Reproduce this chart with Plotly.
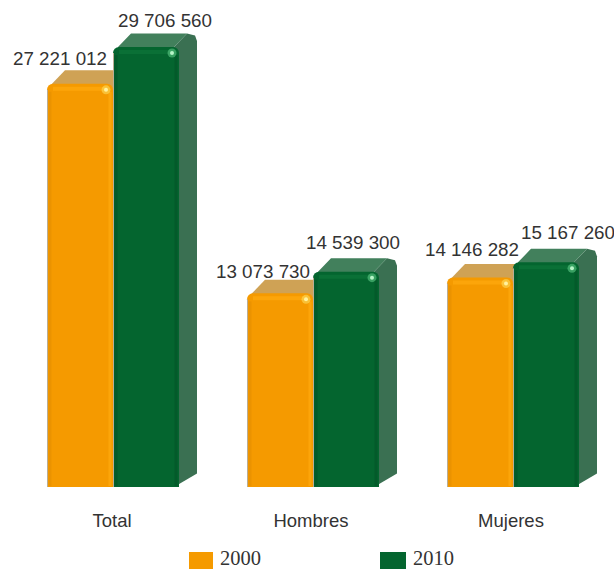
import plotly.graph_objects as go

categories = ["Total", "Hombres", "Mujeres"]
series_names = ["2000", "2010"]
values_2000 = [27221012, 13073730, 14146282]
values_2010 = [29706560, 14539300, 15167260]
label_2000 = ["27 221 012", "13 073 730", "14 146 282"]
label_2010 = ["29 706 560", "14 539 300", "15 167 260"]

W, H = 614, 569
BASE_PX = 487
PX_X = 1 / 200            # data units per pixel, x
PX_Y = 29706560 / 440     # data units per pixel, y
BAR = 66 * PX_X
DX, DY = 18 * PX_X, 13.5 * PX_Y
RX, RY = 5 * PX_X, 5 * PX_Y

FRONT = {"2000": "#f59a00", "2010": "#04652f"}
TOP = {"2000": "#cfa255", "2010": "#42805c"}
SIDE = {"2000": "#cfa255", "2010": "#3a7052"}
SHEEN = {"2000": "#fca50a", "2010": "#0a7036"}
DARK = {"2000": "#eb9300", "2010": "#035a2a"}
SPARK = {"2000": "#fff2a0", "2010": "#b8f5c8"}
GLOW = {"2000": "rgba(255,240,120,0.45)", "2010": "rgba(120,230,160,0.45)"}

traces = []


def poly(xs, ys, color):
    traces.append(go.Scatter(x=xs, y=ys, mode="lines", fill="toself", fillcolor=color,
                             line=dict(width=0, color=color), hoverinfo="skip", showlegend=False))


def stroke(xs, ys, color, width):
    traces.append(go.Scatter(x=xs, y=ys, yaxis="y2", mode="lines", line=dict(color=color, width=width),
                             hoverinfo="skip", showlegend=False))


# extruded faces, derived from the values (drawn on the lower axis, behind the bars)
inner = 7 * PX_Y
for i, h in enumerate(values_2000):
    x0, x1 = i - BAR, i
    poly([x0 + RX, x0 + DX, x1 + RX, x1 + RX, x0 + RX], [h, h + DY, h + DY, h - inner, h - inner], TOP["2000"])
for i, h in enumerate(values_2010):
    x0, x1 = i, i + BAR
    poly([x1 - RX, x1 - RX, x1 + DX - 2 * RX, x1 + DX - RX * 0.4, x1 + DX, x1 + DX, x1 - RX],
         [h - inner, h, h + DY, h + DY - 0.4 * RY, h + DY - RY * 1.5, DY, 0], SIDE["2010"])
    poly([x0 + RX, x0 + DX, x1 + DX - 2 * RX, x1 - RX, x1 - RX, x0 + RX],
         [h, h + DY, h + DY, h, h - inner, h - inner], TOP["2010"])

# front faces
for off, name, vals in ((-BAR / 2, "2000", values_2000), (BAR / 2, "2010", values_2010)):
    traces.append(go.Bar(x=[i + off for i in range(3)], y=vals, yaxis="y2", width=BAR, name=name,
                         marker=dict(color=FRONT[name], line=dict(width=0)),
                         showlegend=False, hoverinfo="skip"))

# sheen lines and specular dots
for off, name, vals in ((-BAR, "2000", values_2000), (0, "2010", values_2010)):
    for i, h in enumerate(vals):
        x0, x1 = i + off, i + off + BAR
        stroke([x0 + 3 * PX_X, x0 + 3 * PX_X], [PX_Y, h - 8 * PX_Y], DARK[name], 3)
        stroke([x1 - 3 * PX_X, x1 - 3 * PX_X], [PX_Y, h - 8 * PX_Y], SHEEN[name] if name == "2000" else DARK[name], 3)
        stroke([x0 + 6 * PX_X, x1 - 6 * PX_X], [h - 5 * PX_Y, h - 5 * PX_Y], SHEEN[name], 4)
        stroke([x0 + 0.5 * PX_X, x0 + 0.5 * PX_X], [0, h - 6 * PX_Y], "#b9ad95", 1)
        stroke([x0 + PX_X, x1 - 3 * PX_X], [-0.5 * PX_Y, -0.5 * PX_Y], "#c8c8c0", 1)
        traces.append(go.Scatter(x=[x1 - 7 * PX_X], y=[h - 6 * PX_Y], yaxis="y2", mode="markers",
                                 marker=dict(size=9, color=GLOW[name], line=dict(width=0)),
                                 hoverinfo="skip", showlegend=False))
        traces.append(go.Scatter(x=[x1 - 7 * PX_X], y=[h - 6 * PX_Y], yaxis="y2", mode="markers",
                                 marker=dict(size=4, color=SPARK[name], line=dict(width=0)),
                                 hoverinfo="skip", showlegend=False))

fig = go.Figure(traces)

FONT = "Liberation Sans, Arial, sans-serif"
LABEL_SHIFT = {"2000": [(-20, 25), (-17, 22), (-8, 28)], "2010": [(19, 27), (7, 29), (22, 30)]}
annotations = []
for off, name, vals, labs in ((-BAR / 2, "2000", values_2000, label_2000),
                              (BAR / 2, "2010", values_2010, label_2010)):
    for i, (h, t) in enumerate(zip(vals, labs)):
        sx, sy = LABEL_SHIFT[name][i]
        annotations.append(dict(x=i + off, y=h, yref="y2", text=t, showarrow=False, xshift=sx, yshift=sy,
                                xanchor="center", yanchor="middle",
                                font=dict(family=FONT, size=18.8, color="#333333")))

shapes = []
for name, px0, px1, ptext in (("2000", 189, 213, 220), ("2010", 380, 406, 413)):
    shapes.append(dict(type="rect", xref="paper", yref="paper", x0=px0 / W, x1=px1 / W,
                       y0=0, y1=(H - 552) / H, fillcolor=FRONT[name], line=dict(width=0)))
    annotations.append(dict(xref="paper", yref="paper", x=ptext / W, y=(H - 557.5) / H, text=name,
                            showarrow=False, xanchor="left", yanchor="middle", xshift=-2,
                            font=dict(family="Liberation Serif, serif", size=20.5, color="#333333")))

y_range = [0, BASE_PX * PX_Y]
y_domain = [(H - BASE_PX) / H, 1]
fig.update_layout(
    width=W, height=H, margin=dict(l=0, r=0, t=0, b=0, pad=0),
    paper_bgcolor="white", plot_bgcolor="white", showlegend=False,
    barmode="overlay", barcornerradius=6, annotations=annotations, shapes=shapes,
    xaxis=dict(range=[-113 * PX_X, (W - 113) * PX_X], tickmode="array", tickvals=[-0.005, 0.99, 1.99],
               ticktext=categories, showgrid=False, zeroline=False, showline=False,
               ticks="outside", ticklen=17, tickcolor="rgba(0,0,0,0)",
               tickfont=dict(family=FONT, size=18.5, color="#333333")),
    yaxis=dict(domain=y_domain, range=y_range, visible=False),
    yaxis2=dict(domain=y_domain, range=y_range, visible=False, overlaying="y"),
)
fig.write_html("out.html", config={"displayModeBar": False},
               post_script="document.body.style.margin='0';document.documentElement.style.overflow='hidden';")
